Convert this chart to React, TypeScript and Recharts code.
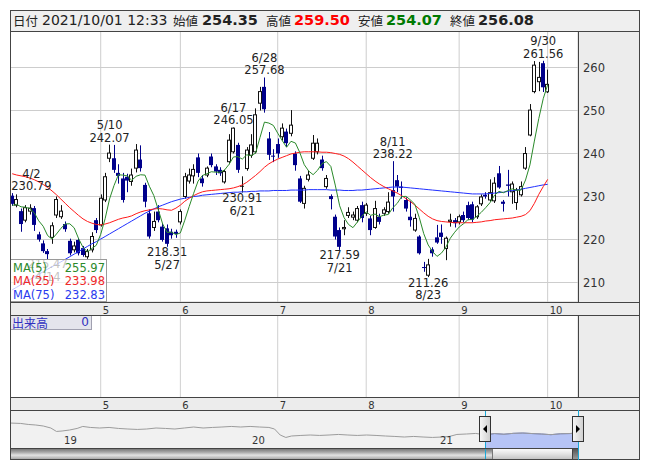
import React from "react";
import { ComposedChart, Bar, Line, XAxis, YAxis, CartesianGrid, Scatter, Area, ReferenceLine } from "recharts";

const FONT = "'DejaVu Sans', Verdana, sans-serif";
const JP = "'Noto Sans CJK JP', 'DejaVu Sans', sans-serif";

const dates = [
  "4/2","4/5","4/6","4/7","4/8","4/9","4/12","4/13","4/14","4/15","4/16","4/19","4/20","4/21","4/22","4/23","4/26","4/27","4/28","4/30",
  "5/6","5/7","5/10","5/11","5/12","5/13","5/14","5/17","5/18","5/19","5/20","5/21","5/24","5/25","5/26","5/27","5/28","5/31",
  "6/1","6/2","6/3","6/4","6/7","6/8","6/9","6/10","6/11","6/14","6/15","6/16","6/17","6/18","6/21","6/22","6/23","6/24","6/25","6/28","6/29","6/30",
  "7/1","7/2","7/5","7/6","7/7","7/8","7/9","7/12","7/13","7/14","7/15","7/16","7/19","7/20","7/21","7/26","7/27","7/28","7/29","7/30",
  "8/2","8/3","8/4","8/5","8/6","8/10","8/11","8/12","8/13","8/16","8/17","8/18","8/19","8/20","8/23","8/24","8/25","8/26","8/27","8/30","8/31",
  "9/1","9/2","9/3","9/6","9/7","9/8","9/9","9/10","9/13","9/14","9/15","9/16","9/17","9/21","9/22","9/24","9/27","9/28","9/29","9/30",
  "10/1"
];

const opens = [
  230.2,228.0,226.6,224.5,226.6,227.3,221.2,219.1,217.3,220.5,225.7,225.3,223.6,219.7,217.6,219.9,218.0,216.0,217.6,224.5,
  223.4,229.2,238.9,238.9,235.5,234.2,234.6,233.5,236.6,238.6,232.7,226.1,222.8,226.5,223.0,222.6,221.8,221.8,
  224.1,230.0,233.6,234.8,239.1,234.2,235.0,239.3,237.0,236.2,233.4,238.1,240.4,242.0,232.3,236.5,239.6,240.4,251.7,255.5,243.5,239.5,
  242.2,243.9,245.1,244.7,240.0,234.2,228.4,234.0,238.9,240.4,238.6,232.3,230.1,225.3,222.2,222.5,225.6,225.2,224.5,228.0,
  226.1,224.9,222.8,225.3,226.1,226.5,231.5,233.8,232.3,229.2,225.3,222.2,220.7,213.6,211.7,217.7,220.5,221.6,217.9,224.2,224.5,
  224.1,225.7,228.0,228.2,225.3,228.3,230.4,229.2,229.0,235.4,228.8,232.8,231.1,228.6,230.4,236.6,244.3,254.4,256.7,261.0,
  254.35
];
const highs = [
  230.79,230.5,227.2,228.0,228.2,227.8,221.8,219.8,217.8,224.0,230.0,228.0,224.2,220.2,219.5,220.3,218.5,217.8,221.7,225.0,
  230.5,235.5,242.07,242.0,237.5,235.5,235.3,236.5,242.2,241.9,233.2,227.0,226.5,228.0,223.8,223.5,222.5,222.3,
  227.0,235.5,236.5,237.5,240.0,235.0,237.0,240.0,237.5,236.8,236.2,244.5,246.05,242.5,234.7,241.5,244.5,250.5,255.5,257.68,245.0,241.0,
  243.5,247.0,245.8,250.1,240.5,234.8,232.5,236.0,244.3,243.5,239.5,235.0,230.5,225.8,222.8,224.5,227.5,226.5,227.8,228.8,
  228.5,225.5,229.0,226.0,227.5,231.0,238.22,235.0,233.5,229.8,229.0,226.0,221.0,214.8,215.5,218.2,223.4,223.5,220.7,226.0,225.0,
  225.8,226.5,228.8,228.8,228.0,230.5,231.0,234.0,234.5,237.1,229.2,236.2,233.5,232.0,233.5,241.5,251.5,261.5,261.3,261.56,
  259.50
];
const lows = [
  227.8,227.5,221.8,224.0,225.8,222.0,219.5,216.9,215.47,219.0,225.0,224.8,221.8,216.3,217.0,216.3,216.0,215.5,217.0,221.5,
  223.0,228.7,238.0,235.5,233.0,228.6,231.0,232.5,235.6,235.8,227.5,220.2,222.0,224.0,219.5,218.31,220.2,220.4,
  223.5,229.5,233.0,233.0,234.5,232.3,234.5,236.8,235.0,234.8,233.0,237.5,240.0,235.5,230.91,236.0,239.0,240.0,250.0,249.5,238.5,238.0,
  239.0,243.0,241.5,244.0,236.0,228.5,227.2,233.5,238.5,239.8,236.0,231.8,227.0,220.0,217.59,221.0,225.0,224.5,224.0,224.0,
  225.5,221.0,222.5,223.5,225.5,226.0,226.5,231.0,229.5,226.5,223.0,221.8,216.5,212.5,211.26,216.0,219.0,219.0,215.2,223.0,222.8,
  223.5,224.0,224.5,224.0,224.8,227.8,229.5,228.8,228.5,231.8,226.5,230.0,228.3,226.9,230.0,236.2,244.0,254.0,254.5,254.3,
  254.07
];
const closes = [
  228.3,229.3,223.6,227.4,227.3,223.4,220.0,217.3,216.6,223.2,229.3,226.6,222.4,216.8,218.5,216.8,216.4,217.2,220.7,222.2,
  229.6,234.6,240.1,236.2,234.8,229.2,233.7,235.0,240.8,236.6,228.8,220.7,224.2,224.5,219.9,219.0,221.0,221.3,
  226.5,234.6,235.0,236.3,235.5,233.1,236.6,237.3,235.8,235.4,235.8,243.1,245.9,236.2,232.5,240.8,242.0,249.0,254.4,250.3,239.7,239.3,
  240.0,245.9,242.4,246.6,237.3,228.8,231.9,235.0,242.4,242.4,236.6,234.2,229.4,220.7,218.3,222.8,226.3,225.7,227.2,225.0,
  228.0,222.2,227.2,224.1,226.9,228.7,230.0,232.3,232.0,227.2,224.5,224.9,216.8,213.4,214.1,216.8,219.3,220.6,220.3,224.5,223.8,
  225.3,224.5,225.0,224.6,227.6,229.9,230.0,230.9,233.1,232.1,228.3,232.5,232.9,231.5,232.3,240.0,250.1,260.55,257.7,255.4,
  256.08
];
// closes of the four sessions before 4/2 (for the 5-day average)
const priorCloses = [228.0, 226.5, 227.8, 229.0];

const ma25 = [
  235.3,235.0,234.8,234.6,234.3,233.9,233.4,232.8,232.1,231.3,230.4,229.4,228.4,227.4,226.5,225.6,224.8,224.2,223.8,223.5,
  223.4,223.6,223.9,224.3,224.7,225.0,225.2,225.5,226.0,226.4,226.7,226.9,227.1,227.2,227.1,226.9,226.8,227.3,
  228.0,228.9,229.6,230.2,230.7,231.1,231.3,231.4,231.5,231.6,231.7,231.8,232.0,232.3,232.7,233.3,234.1,234.9,235.8,236.8,237.6,238.2,
  238.7,239.1,239.5,239.9,240.1,240.3,240.4,240.4,240.4,240.4,240.3,240.3,240.2,240.0,239.8,239.4,238.8,238.0,237.1,236.2,
  235.3,234.4,233.6,232.9,232.3,231.8,231.3,230.8,230.2,229.5,228.8,228.0,227.1,226.2,225.4,224.8,224.4,224.2,224.1,224.0,223.9,
  223.9,223.9,223.9,223.9,224.0,224.1,224.3,224.4,224.6,224.7,224.8,224.9,225.0,225.2,225.4,225.8,226.7,228.4,230.5,232.3,
  233.98
];
const ma75 = [
  208.3,208.9,209.5,210.1,210.7,211.3,211.9,212.5,213.1,213.7,214.2,214.8,215.4,216.0,216.6,217.2,217.8,218.4,219.0,219.5,
  220.1,220.7,221.3,221.9,222.5,223.1,223.7,224.3,224.9,225.5,226.1,226.6,227.1,227.6,228.0,228.4,228.8,229.1,
  229.4,229.6,229.8,230.0,230.1,230.3,230.4,230.5,230.6,230.7,230.8,230.9,231.0,231.0,231.1,231.1,231.2,231.2,231.3,231.3,231.3,231.4,
  231.4,231.4,231.4,231.5,231.5,231.5,231.5,231.6,231.6,231.6,231.6,231.6,231.5,231.5,231.5,231.4,231.4,231.4,231.5,231.5,
  231.6,231.7,231.8,231.9,232.0,232.1,232.2,232.2,232.2,232.1,232.0,231.9,231.8,231.7,231.6,231.5,231.4,231.3,231.2,231.1,231.0,
  230.9,230.8,230.7,230.6,230.6,230.6,230.6,230.7,230.8,230.9,231.0,231.2,231.4,231.5,231.7,231.9,232.1,232.3,232.5,232.7,
  232.83
];

const priceTicks = [210, 220, 230, 240, 250, 260];

// highlighted highs / lows (index into dates)
const highMarks = [0, 22, 50, 57, 86, 120];
const lowMarks = [8, 35, 52, 74, 94];

// navigator (long-term history), decimal years
const navYears = [
  2018.72,2018.78,2018.82,2018.86,2018.90,2018.94,2018.97,2019.00,2019.04,2019.08,2019.11,2019.15,2019.20,2019.25,2019.30,2019.35,
  2019.40,2019.45,2019.50,2019.55,2019.60,2019.65,2019.70,2019.75,2019.80,2019.85,2019.90,2019.95,2020.00,2020.05,2020.10,2020.13,
  2020.16,2020.19,2020.22,2020.27,2020.32,2020.37,2020.42,2020.47,2020.52,2020.57,2020.62,2020.67,2020.72,2020.77,2020.82,2020.87,
  2020.92,2020.97,2021.02,2021.06,2021.10,2021.15,2021.20,2021.25,2021.30,2021.35,2021.40,2021.45,2021.50,2021.55,2021.60,2021.65,
  2021.70,2021.75
];
const navValues = [
  331,327,318,313,304,286,255,259,268,282,300,291,286,291,282,277,
  273,277,286,282,277,286,295,286,291,295,300,295,300,295,291,277,
  223,201,214,219,223,219,223,228,223,219,223,219,214,210,205,210,
  205,201,205,210,228,232,237,224,236,230,238,241,236,232,226,234,
  236,244
];
const navYearLabels = [2019, 2020, 2021];
const selStart = 2021.25;

const rowsMA5 = (() => {
  const all = [...priorCloses, ...closes];
  return closes.map((_, i) => {
    let s = 0;
    for (let k = 0; k < 5; k++) s += all[i + k];
    return +(s / 5).toFixed(2);
  });
})();

const data = dates.map((d, i) => ({
  i, date: d, o: opens[i], h: highs[i], l: lows[i], c: closes[i],
  range: [lows[i], highs[i]], ma5: rowsMA5[i], ma25: ma25[i], ma75: ma75[i],
}));

const annData = [
  ...highMarks.map((i) => ({ i, v: highs[i], date: dates[i], kind: "high" })),
  ...lowMarks.map((i) => ({ i, v: lows[i], date: dates[i], kind: "low" })),
];

const monthStarts = dates
  .map((d, i) => i)
  .filter((i) => i > 0 && dates[i].split("/")[0] !== dates[i - 1].split("/")[0]);

const navData = navYears.map((t, k) => ({ t, v: navValues[k], sel: t >= selStart ? navValues[k] : null }));

const PLOT_W = 568;

const Candle = (props: any) => {
  const { x, y, width, height, payload } = props;
  if (x == null || y == null) return null;
  const { o, c, h, l } = payload;
  const r = Math.round(x + width / 2);
  const span = h - l || 1;
  const py = (v: number) => y + ((h - v) / span) * height;
  const up = c >= o;
  const top = py(Math.max(o, c));
  const bot = py(Math.min(o, c));
  const color = up ? "#111" : "#00008b";
  const bh = bot - top;
  return (
    <g>
      <line x1={r + 0.5} x2={r + 0.5} y1={y} y2={y + height} stroke={color} strokeWidth={1} />
      {up ? (
        bh < 1.2 ? (
          <line x1={r - 2} x2={r + 2} y1={top + 0.5} y2={top + 0.5} stroke={color} strokeWidth={1} />
        ) : (
          <rect x={r - 1.5} y={top} width={3} height={bh} fill="#fff" stroke={color} strokeWidth={1} />
        )
      ) : (
        <rect x={r - 2} y={top} width={4} height={Math.max(bh, 1)} fill="#00008b" />
      )}
    </g>
  );
};

const AnnLabel = (props: any) => {
  const { cx, cy, payload } = props;
  if (cx == null || cy == null) return null;
  const val = payload.v.toFixed(2);
  const half = val.length * 3.4;
  const x = Math.min(Math.max(cx, half + 1), PLOT_W - half - 1);
  const hi = payload.kind === "high";
  const st = { fontSize: 11.5, fill: "#222", fontFamily: FONT } as any;
  return (
    <g>
      <text x={x} y={hi ? cy - 15.5 : cy + 22} textAnchor="middle" {...st}>{payload.date}</text>
      <text x={x} y={hi ? cy - 3 : cy + 9.5} textAnchor="middle" {...st}>{val}</text>
    </g>
  );
};

const MonthTick = (props: any) => {
  const { x, y, payload } = props;
  return (
    <text x={x + 2} y={y + 10} fontSize={10} fill="#333" fontFamily={FONT}>
      {dates[payload.value].split("/")[0]}
    </text>
  );
};

const xDomain: [number, number] = [-0.5, 127.86];

const abs = (l: number, t: number, w: number, h: number, extra: any = {}) => ({
  position: "absolute" as const, left: l, top: t, width: w, height: h, boxSizing: "border-box" as const, ...extra,
});

const LINE = "#444";

const Handle = ({ left, dir }: { left: number; dir: "l" | "r" }) => (
  <div style={abs(left, 416, 12, 26, { background: "linear-gradient(to right, #f6f6f6, #d0d0d0)", border: "1px solid #333" })}>
    <svg width={10} height={24} style={{ position: "absolute", left: 0, top: 0 }}>
      {dir === "l" ? <polygon points="3,12 7,8 7,16" fill="#000" /> : <polygon points="7,12 3,8 3,16" fill="#000" />}
    </svg>
  </div>
);

export default function App() {
  const legendRows = [
    { name: "MA(5)", value: rowsMA5[rowsMA5.length - 1].toFixed(2), color: "#2b8a2b" },
    { name: "MA(25)", value: ma25[ma25.length - 1].toFixed(2), color: "#ee2a2a" },
    { name: "MA(75)", value: ma75[ma75.length - 1].toFixed(2), color: "#2a3aee" },
  ];
  const last = closes.length - 1;
  const head = [
    { t: "日付", x: 3, jp: true },
    { t: "2021/10/01 12:33", x: 32, size: 14 },
    { t: "始値", x: 163, jp: true },
    { t: opens[last].toFixed(2), x: 192, bold: true, color: "#222" },
    { t: "高値", x: 256, jp: true },
    { t: highs[last].toFixed(2), x: 284, bold: true, color: "#ff0000" },
    { t: "安値", x: 348, jp: true },
    { t: lows[last].toFixed(2), x: 376, bold: true, color: "#007a00" },
    { t: "終値", x: 440, jp: true },
    { t: closes[last].toFixed(2), x: 468, bold: true, color: "#222" },
  ];

  return (
    <div style={{ position: "absolute", left: 0, top: 0, width: 653, height: 470, background: "#fff", fontFamily: FONT }}>
      {/* backgrounds */}
      <div style={abs(578, 31, 62, 429, { background: "#ececec" })} />
      <div style={abs(10, 10, 630, 21, { background: "#efefef" })} />
      <div style={abs(10, 302, 630, 13, { background: "#ececec" })} />
      <div style={abs(10, 397, 630, 13, { background: "#ececec" })} />

      {/* header */}
      {head.map((h, k) => (
        <span
          key={k}
          style={{
            position: "absolute", left: 10 + h.x, top: 10, height: 21, lineHeight: "21px", whiteSpace: "nowrap",
            fontFamily: h.jp ? JP : FONT, fontSize: h.jp ? 12.5 : h.bold ? 14.5 : h.size || 13, fontWeight: h.bold ? 700 : 400,
            color: h.color || "#222",
          }}
        >
          {h.t}
        </span>
      ))}

      {/* price chart */}
      <div style={abs(10, 31, 630, 284)}>
        <ComposedChart width={630} height={284} data={data} margin={{ top: 0, right: 0, bottom: 0, left: 0 }}>
          <CartesianGrid fill="#fff" stroke="#cdcdcd" />
          <XAxis dataKey="i" type="number" domain={xDomain} allowDataOverflow ticks={monthStarts} interval={0}
            height={13} tick={<MonthTick />} tickSize={0} tickLine={false} axisLine={false} />
          <YAxis orientation="right" width={62} type="number" domain={[205.47, 268.49]} allowDataOverflow ticks={priceTicks}
            interval={0} tickSize={0} tickMargin={5} tickLine={false} axisLine={false}
            tick={{ fontSize: 11.5, fill: "#333", fontFamily: FONT }} />
          <Bar dataKey="range" barSize={4} shape={<Candle />} isAnimationActive={false} />
          <Line dataKey="ma75" type="linear" stroke="#2030ff" strokeWidth={1} dot={false} isAnimationActive={false} />
          <Line dataKey="ma25" type="linear" stroke="#ff1a1a" strokeWidth={1} dot={false} isAnimationActive={false} />
          <Line dataKey="ma5" type="linear" stroke="#2a8a2a" strokeWidth={1} dot={false} isAnimationActive={false} />
          <Scatter data={annData} dataKey="v" shape={<AnnLabel />} isAnimationActive={false} />
        </ComposedChart>
      </div>

      {/* legend */}
      <div style={abs(10, 259, 97, 43, { background: "rgba(255,255,255,0.72)", border: "1px solid #9a9a9a" })}>
        {legendRows.map((r, k) => (
          <div key={k} style={{ position: "absolute", left: 2, top: 1 + k * 13.4, width: 92, height: 14, lineHeight: "14px", fontSize: 11.5, color: r.color }}>
            <span>{r.name}</span>
            <span style={{ position: "absolute", right: 0 }}>{r.value}</span>
          </div>
        ))}
      </div>

      {/* volume pane */}
      <div style={abs(10, 315, 630, 95)}>
        <ComposedChart width={630} height={95} data={data} margin={{ top: 0, right: 0, bottom: 0, left: 0 }}>
          <CartesianGrid fill="#fff" stroke="#d0d0d0" horizontal={false} />
          <XAxis dataKey="i" type="number" domain={xDomain} allowDataOverflow ticks={monthStarts} interval={0}
            height={13} tick={<MonthTick />} tickSize={0} tickLine={false} axisLine={false} />
          <YAxis orientation="right" width={62} type="number" domain={[0, 1]} allowDataOverflow tick={false} tickLine={false} axisLine={false} />
        </ComposedChart>
      </div>
      <div style={abs(10, 315, 82, 15, { background: "#e4e4ec", border: "1px solid #a0a0b0", color: "#3030c0", fontSize: 12, lineHeight: "13px" })}>
        <span style={{ position: "absolute", left: 1, top: 0, fontFamily: JP }}>出来高</span>
        <span style={{ position: "absolute", right: 2, top: 0 }}>0</span>
      </div>

      {/* navigator */}
      <div style={abs(10, 410, 568, 38)}>
        <ComposedChart width={568} height={38} data={navData} margin={{ top: 0, right: 0, bottom: 0, left: 0 }}>
          <CartesianGrid fill="#f1f1f1" horizontal={false} vertical={false} />
          <XAxis dataKey="t" type="number" domain={[2018.723, 2021.744]} allowDataOverflow hide />
          <YAxis type="number" domain={[106, 448]} allowDataOverflow hide />
          <Line dataKey="v" type="linear" stroke="#9c9c9c" strokeWidth={1} dot={false} isAnimationActive={false} />
          <Area dataKey="sel" type="linear" stroke="#6b7cd0" strokeWidth={1} fill="#b6c4f6" fillOpacity={1} isAnimationActive={false} />
          {navYearLabels.map((yv) => (
            <ReferenceLine key={yv} x={yv} stroke="none"
              label={(p: any) => (
                <text x={p.viewBox.x + 2} y={p.viewBox.y + p.viewBox.height - 4} fontSize={10} fill="#333" fontFamily={FONT}>
                  {String(yv).slice(2)}
                </text>
              )} />
          ))}
        </ComposedChart>
      </div>

      {/* scrollbar */}
      <div style={abs(10, 448, 568, 12, { background: "linear-gradient(to bottom, #6a6a6a, #a8a8a8 35%, #e2e2e2 60%, #9a9a9a)" })} />
      <div style={abs(492, 448, 81, 12, { background: "linear-gradient(to bottom, #fafafa, #e2e2e2 50%, #c4c4c4)", border: "1px solid #777" })} />
      <div style={abs(572, 448, 7, 12, { background: "linear-gradient(to bottom, #555, #999)", border: "1px solid #444" })} />

      {/* selection lines */}
      <div style={abs(485, 410, 1, 50, { background: "#18a8d8" })} />

      {/* frame lines */}
      <div style={abs(10, 10, 630, 450, { border: `1px solid ${LINE}` })} />
      <div style={abs(10, 31, 630, 1, { background: LINE })} />
      <div style={abs(10, 302, 630, 1, { background: LINE })} />
      <div style={abs(10, 315, 630, 1, { background: LINE })} />
      <div style={abs(10, 397, 630, 1, { background: LINE })} />
      <div style={abs(10, 410, 630, 1, { background: LINE })} />
      <div style={abs(10, 448, 568, 1, { background: LINE })} />
      <div style={abs(578, 31, 1, 271, { background: LINE })} />
      <div style={abs(578, 315, 1, 82, { background: LINE })} />
      <div style={abs(578, 410, 1, 50, { background: "#18a8d8" })} />

      <Handle left={479} dir="l" />
      <Handle left={572} dir="r" />
    </div>
  );
}
